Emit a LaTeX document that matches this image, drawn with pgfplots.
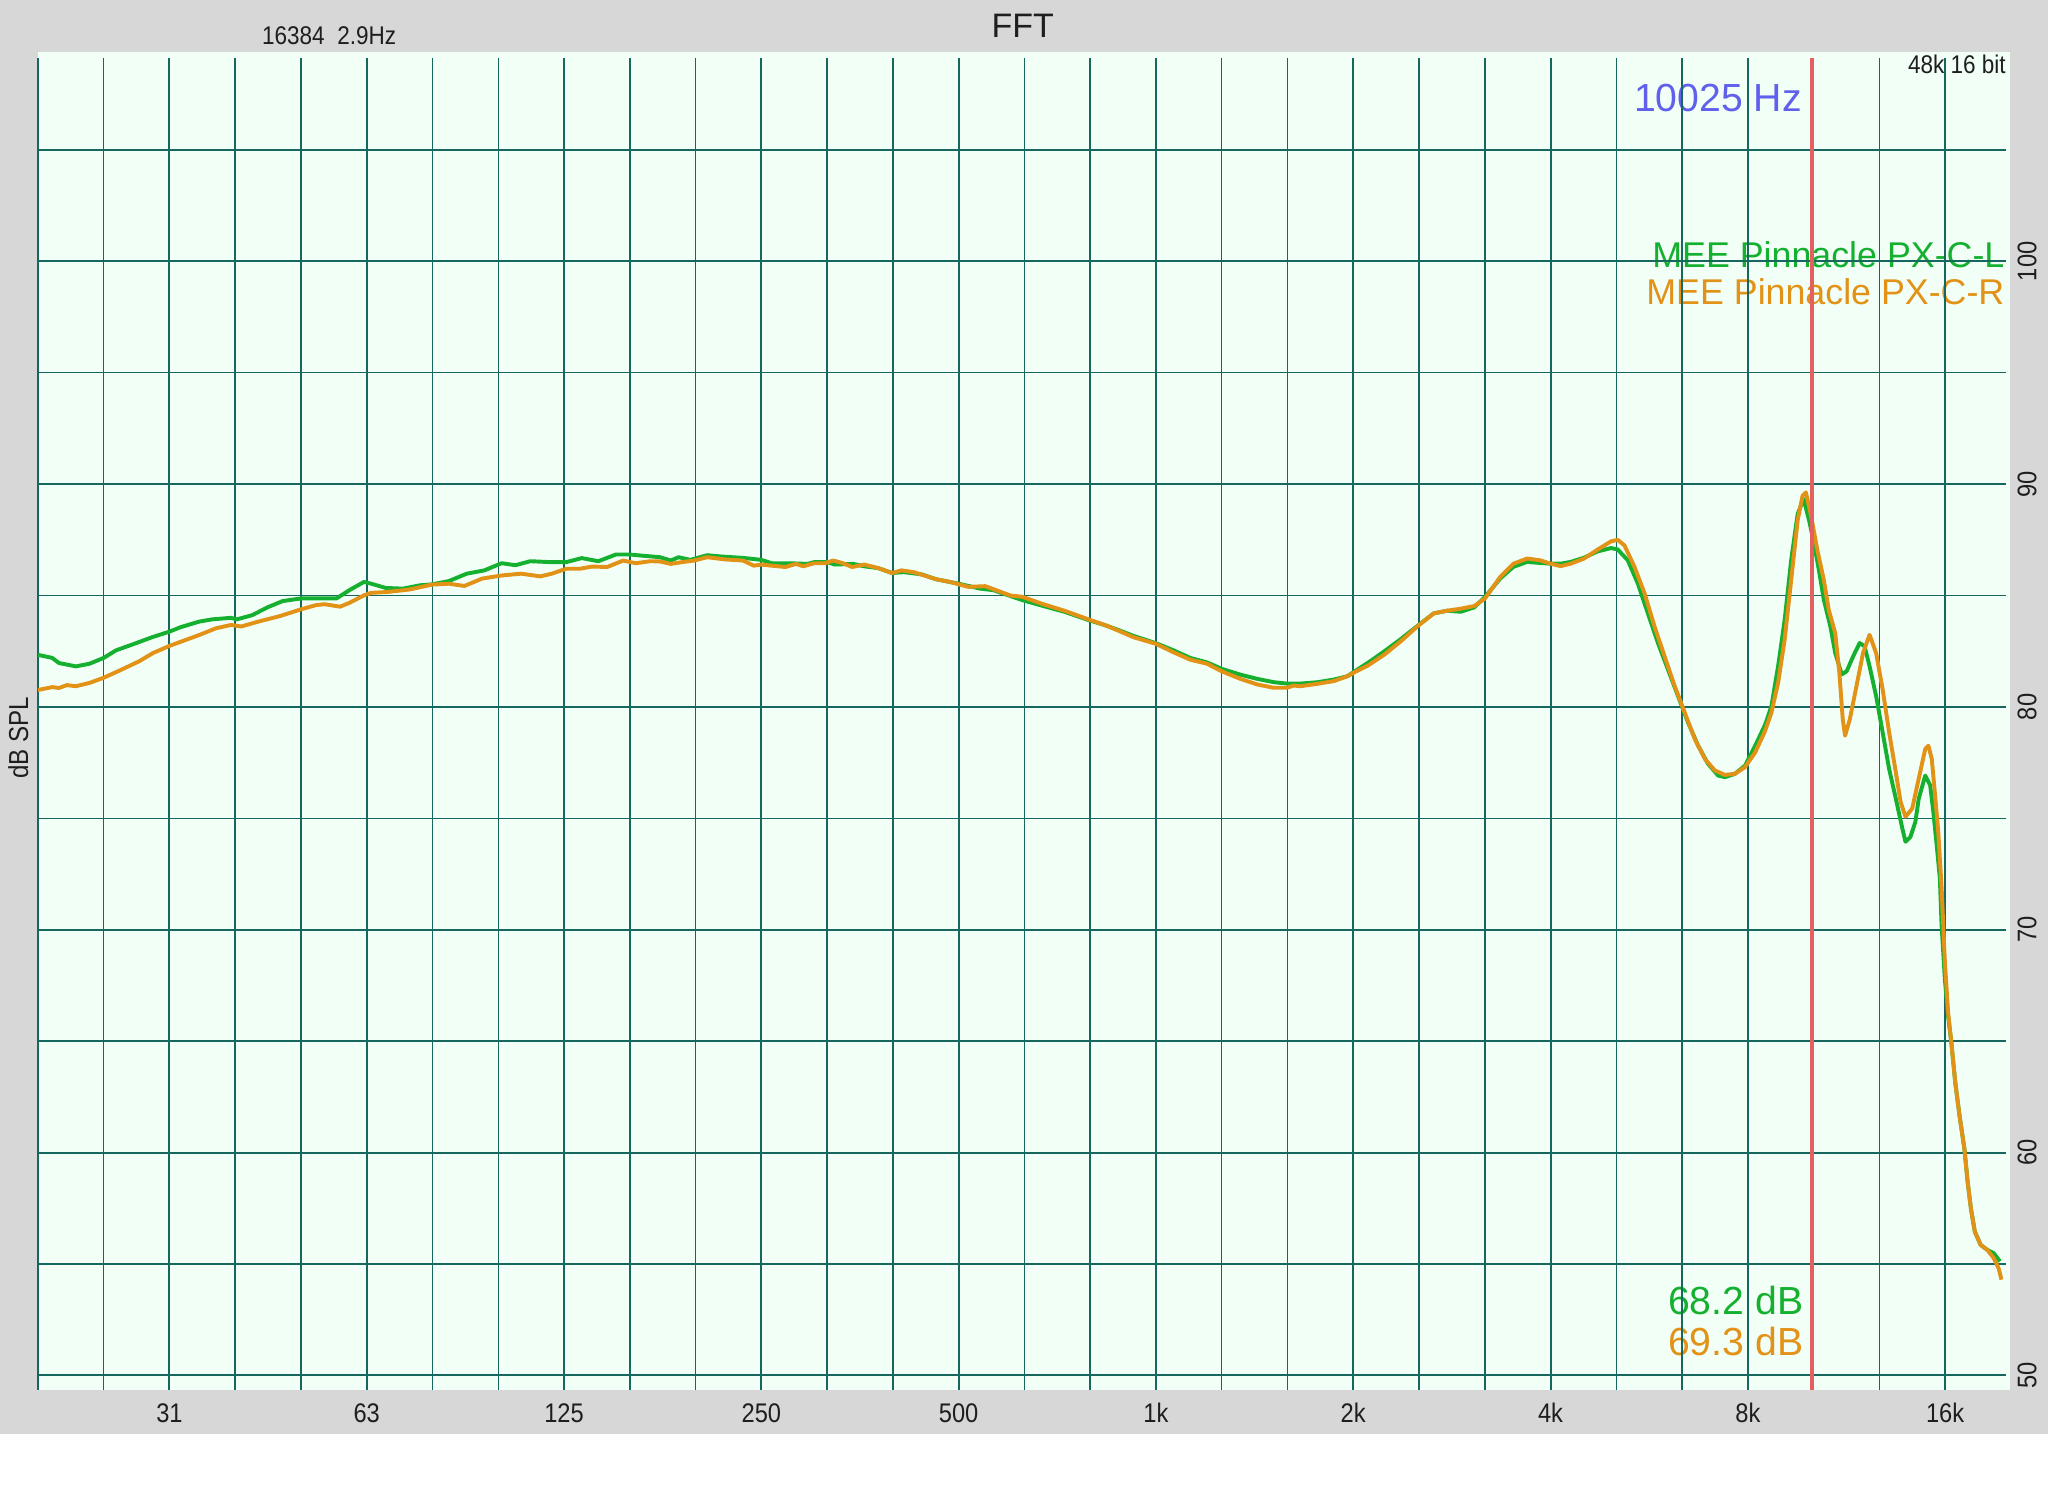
\documentclass[border=0pt]{standalone}
\usepackage{pgfplots}
\pgfplotsset{compat=1.18}
\usepackage{fontspec}
\setmainfont{Liberation Sans}
\newfontfamily\narrow[FakeStretch=0.88]{Liberation Sans}
\definecolor{bggray}{RGB}{214,215,214}
\definecolor{mint}{RGB}{242,255,247}
\definecolor{gridteal}{RGB}{22,104,94}
\definecolor{cgreen}{RGB}{22,176,48}
\definecolor{corange}{RGB}{226,146,22}
\definecolor{cblue}{RGB}{96,96,236}
\definecolor{cred}{RGB}{226,96,96}
\definecolor{ctext}{RGB}{30,30,30}
\begin{document}
\begin{tikzpicture}
\useasboundingbox (0,0) rectangle (784pt,572.5pt);
\fill[white] (0,0) rectangle (784pt,572.5pt);
\fill[bggray] (0,23.5pt) rectangle (784pt,572.5pt);
\fill[mint] (14.5pt,40.5pt) rectangle (769.5pt,552.5pt);
% texts
\node[inner sep=0, text=ctext, font=\fontsize{13}{15}\selectfont] at (391.5pt,562.5pt) {FFT};
\node[inner sep=0, text=ctext, font=\narrow\fontsize{9.8}{11}\selectfont] at (126pt,559pt) {16384\ \ 2.9Hz};
\node[inner sep=0, anchor=east, text=ctext, font=\narrow\fontsize{9.8}{11}\selectfont] at (768pt,548pt) {48k 16 bit};
\node[inner sep=0, anchor=east, text=cblue, font=\fontsize{15}{17}\selectfont] at (690pt,535pt) {10025 Hz};
\node[inner sep=0, anchor=east, text=cgreen, font=\fontsize{13.7}{16}\selectfont] at (767.5pt,475pt) {MEE Pinnacle PX-C-L};
\node[inner sep=0, anchor=east, text=corange, font=\fontsize{13.7}{16}\selectfont] at (767.5pt,461pt) {MEE Pinnacle PX-C-R};
\node[inner sep=0, anchor=east, text=cgreen, font=\fontsize{15}{17}\selectfont] at (690.5pt,74.5pt) {68.2 dB};
\node[inner sep=0, anchor=east, text=corange, font=\fontsize{15}{17}\selectfont] at (690.5pt,59pt) {69.3 dB};
\node[inner sep=0, rotate=90, text=ctext, font=\narrow\fontsize{10.5}{12}\selectfont] at (7pt,290pt) {dB SPL};
\begin{axis}[
  at={(14.5pt,40.5pt)}, anchor=south west,
  scale only axis, width=753.5pt, height=509.6pt,
  xmode=log,
  xmin=19.686, xmax=19830, ymin=49.36, ymax=109.1,
  axis line style={draw=none},
  tick style={draw=none},
  major tick length=0pt, minor tick length=0pt,
  xtick={31.25,62.5,125,250,500,1000,2000,4000,8000,16000},
  xticklabels={31,63,125,250,500,1k,2k,4k,8k,16k},
  minor xtick={19.686,24.803,39.373,49.606,78.745,99.213,157.49,198.43,314.98,396.85,629.96,793.70,1259.9,1587.4,2519.8,3174.8,5039.7,6349.6,10079,12699},
  ytick={50,60,70,80,90,100},
  yticklabels={50,60,70,80,90,100},
  minor ytick={55,65,75,85,95,105},
  grid=both,
  major grid style={draw=gridteal, line width=0.75pt},
  minor grid style={draw=gridteal, line width=0.55pt},
  yticklabel pos=right,
  xticklabel style={anchor=center, yshift=-9pt, text=ctext, font=\narrow\fontsize{10.3}{12}\selectfont},
  yticklabel style={anchor=center, xshift=8pt, rotate=90, text=ctext, font=\narrow\fontsize{10.3}{12}\selectfont},
  clip=true,
]
\addplot[cgreen, line width=1.5pt, line join=round, no marks] coordinates {
(19.69,82.34)(20.7,82.2)(21.2,81.97)(22.5,81.82)(23.6,81.94)(24.8,82.2)(25.9,82.54)(27.6,82.83)(29.4,83.13)(31.25,83.38)
(32.5,83.58)(34.7,83.83)(36.3,83.93)(38.8,84.0)(39.6,83.93)(41.8,84.12)(44.1,84.47)(46.5,84.75)(49.6,84.87)(52.3,84.87)
(56.2,84.87)(58.8,85.24)(61.9,85.61)(63.5,85.53)(66.8,85.34)(71.0,85.31)(75.4,85.46)(78.6,85.5)(83.4,85.65)(88.8,85.98)
(94.5,86.13)(100.4,86.45)(105.4,86.36)(111,86.54)(119,86.5)(126,86.5)(133,86.68)(141,86.54)(150,86.84)(157.4,86.84)
(165.9,86.78)(175.1,86.72)(181.9,86.57)(186.9,86.72)(194.8,86.6)(206.6,86.81)(217.4,86.75)(234.3,86.69)(250,86.6)(259.3,86.45)
(275.6,86.45)(294,86.42)(301,86.5)(315.4,86.5)(323.5,86.39)(345.3,86.42)(359,86.31)(377,86.23)(395.8,86.01)(412,86.05)
(439,85.95)(462,85.73)(500,85.53)(539,85.31)(565,85.24)(595,85.01)(626,84.79)(673,84.53)(725,84.27)(789,83.9)
(842,83.64)(875,83.46)(924,83.19)(1000,82.86)(1064,82.54)(1128,82.2)(1196,82.0)(1260,81.71)(1345,81.45)(1427,81.26)
(1513,81.11)(1584,81.05)(1662,81.05)(1764,81.11)(1869,81.23)(1960,81.38)(2010,81.6)(2103,81.97)(2229,82.49)(2362,83.04)
(2504,83.63)(2654,84.2)(2783,84.32)(2918,84.27)(3060,84.47)(3178,84.94)(3353,85.77)(3512,86.29)(3684,86.51)(3859,86.46)
(4000,86.43)(4145,86.43)(4295,86.51)(4500,86.7)(4718,86.98)(4946,87.13)(5063,87.07)(5247,86.58)(5435,85.54)(5630,84.2)
(5833,82.87)(6042,81.68)(6259,80.49)(6484,79.3)(6718,78.26)(6959,77.44)(7209,76.92)(7380,76.85)(7646,77.0)(7923,77.37)
(8208,78.26)(8500,79.2)(8691,80.04)(8897,81.83)(9104,83.91)(9314,86.58)(9529,88.66)(9730,89.33)(9920,88.37)(10094,87.33)
(10268,86.14)(10448,84.8)(10690,83.61)(10874,82.42)(11126,81.46)(11319,81.6)(11580,82.27)(11848,82.87)(12056,82.72)(12267,81.83)
(12553,80.49)(12844,78.86)(13140,77.22)(13454,75.88)(13765,74.55)(13918,73.95)(14162,74.17)(14409,74.84)(14581,75.88)(14918,76.92)
(15179,76.48)(15349,75.29)(15530,73.8)(15704,72.32)(15800,70.2)(15982,67.8)(16166,66.13)(16351,64.94)(16578,63.15)(16826,61.67)
(17118,60.18)(17315,58.69)(17514,57.5)(17755,56.46)(18125,55.86)(18544,55.64)(18973,55.49)(19400,55.12)
};
\addplot[corange, line width=1.5pt, line join=round, no marks] coordinates {
(19.69,80.76)(20.7,80.89)(21.2,80.85)(21.8,80.98)(22.5,80.93)(23.6,81.08)(24.8,81.31)(26.3,81.65)(28.1,82.05)(29.5,82.42)
(31.25,82.74)(32.9,82.98)(34.7,83.23)(36.8,83.53)(38.8,83.68)(40.2,83.61)(42.7,83.83)(46.1,84.08)(49.6,84.38)(52.3,84.57)
(53.9,84.61)(56.9,84.5)(58.8,84.67)(61.9,85.01)(63.5,85.12)(67.2,85.16)(72.6,85.27)(78.6,85.49)(83.4,85.53)(88.1,85.43)
(93.7,85.76)(100.4,85.9)(107.5,85.98)(115,85.86)(119.7,85.98)(125.9,86.2)(132,86.2)(138,86.3)(145.4,86.28)(153.9,86.57)
(160.8,86.45)(169.2,86.54)(175.1,86.53)(181.9,86.42)(189.3,86.5)(197.6,86.57)(206.6,86.72)(220.2,86.62)(234.3,86.57)(243.5,86.34)
(250,86.39)(259.3,86.34)(272.1,86.28)(282.5,86.42)(289.6,86.31)(301,86.45)(312.5,86.45)(322,86.57)(333,86.45)(344,86.28)
(359,86.39)(377,86.23)(395.8,86.01)(409,86.13)(428,86.04)(462,85.73)(485,85.61)(517,85.39)(549,85.42)(580,85.16)
(600,85.0)(626,84.94)(673,84.61)(725,84.32)(789,83.93)(842,83.64)(875,83.43)(924,83.13)(1000,82.83)(1064,82.45)
(1128,82.12)(1196,81.94)(1260,81.6)(1345,81.26)(1427,81.01)(1513,80.86)(1584,80.86)(1623,80.96)(1662,80.93)(1764,81.04)
(1869,81.16)(1960,81.38)(2010,81.56)(2103,81.85)(2229,82.34)(2362,82.94)(2504,83.61)(2654,84.2)(2783,84.32)(2918,84.41)
(3060,84.53)(3178,84.87)(3353,85.84)(3512,86.43)(3684,86.66)(3859,86.58)(4000,86.43)(4145,86.32)(4295,86.43)(4500,86.66)
(4718,87.06)(4946,87.43)(5063,87.5)(5185,87.25)(5371,86.29)(5565,85.1)(5764,83.61)(5971,82.27)(6186,80.94)(6408,79.75)
(6639,78.56)(6877,77.67)(7124,77.15)(7380,76.95)(7646,77.0)(7923,77.3)(8208,77.96)(8493,78.9)(8691,79.75)(8897,81.08)
(9104,83.02)(9314,85.69)(9529,88.37)(9696,89.48)(9810,89.63)(9976,88.66)(10213,87.03)(10448,85.69)(10630,84.35)(10874,83.31)
(11033,81.53)(11165,79.45)(11257,78.71)(11447,79.45)(11717,80.94)(11989,82.42)(12267,83.24)(12553,82.42)(12844,80.79)(13140,78.86)
(13454,77.07)(13680,75.74)(13918,75.07)(14250,75.44)(14581,76.78)(14918,78.11)(15085,78.26)(15264,77.67)(15444,76.03)(15616,74.4)
(15801,71.9)(15982,68.6)(16166,66.3)(16351,64.94)(16578,63.15)(16826,61.67)(17118,60.18)(17315,58.69)(17514,57.5)(17755,56.46)
(18125,55.86)(18544,55.64)(18973,55.27)(19301,54.82)(19500,54.3)
};
\draw[cred, line width=1.3pt] (axis cs:10025,49.36) -- (axis cs:10025,109.1);
\end{axis}
\end{tikzpicture}
\end{document}
